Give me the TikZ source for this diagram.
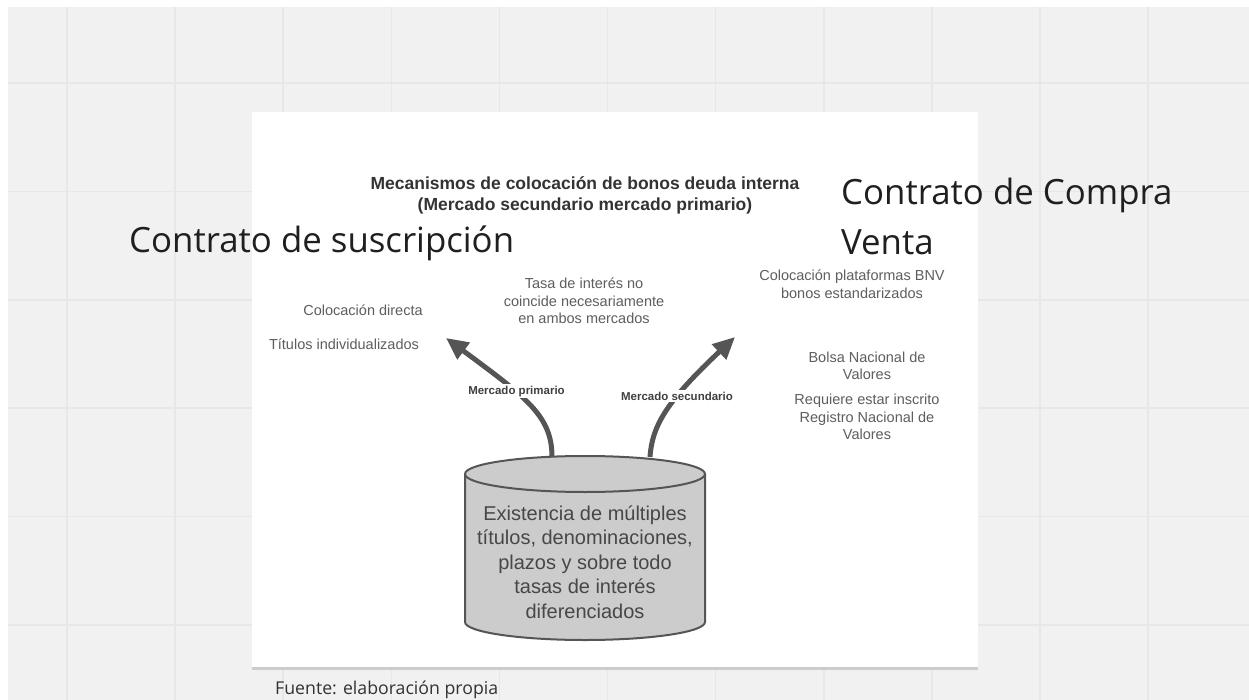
\documentclass[tikz,border=0pt]{standalone}
\usepackage{fontspec}
\setmainfont{Liberation Sans}
\newfontfamily\opensans{Open Sans}
\usetikzlibrary{arrows.meta}
\usetikzlibrary{positioning}
\definecolor{boardbg}{HTML}{F1F1F1}
\definecolor{boardline}{HTML}{E7E7E7}
\definecolor{inkgray}{HTML}{555555}
\definecolor{notegray}{HTML}{5E5E5E}
\definecolor{drumfill}{HTML}{CCCCCC}
\tikzset{note/.style = {text = notegray, font = \fontsize{14.5}{17.5}\selectfont, align = center, inner sep = 0},
  marklbl/.style = {text = black!75, font = \fontsize{11.5}{13}\selectfont\bfseries, fill = white, inner sep = 2pt},
  bigtxt/.style = {text = black!88, font = \opensans\fontsize{34.8}{50}\selectfont, align = left, inner sep = 0},
  flow/.style = {draw = inkgray, line width = 5pt, -{Triangle[length = 22pt, width = 20pt]}}}

\begin{document}
\begin{tikzpicture}[x=1pt, y=-1pt]
    \useasboundingbox (0, 0) rectangle (1249, 700);
    \fill[boardbg] (8, 7) rectangle (1249, 700);
    \foreach \gx in {0,...,10}{
      \draw[boardline, line width = 1.6pt] ({67 + 108.1*\gx}, 7) -- ({67 + 108.1*\gx}, 700);
    }
    \foreach \gy in {0,...,5}{
      \draw[boardline, line width = 1.6pt] (8, {83 + 108.4*\gy}) -- (1249, {83 + 108.4*\gy});
    }
    \fill[black!20] (252, 665) rectangle (978, 670);
    \fill[white] (252, 112) rectangle (978, 667);

    \node[font = \fontsize{17.5}{21}\selectfont\bfseries, text = black!80, align = center, inner sep = 0] (title) at (585, 195)
      {Mecanismos de colocación de bonos deuda interna\\(Mercado secundario mercado primario)};
    \node[bigtxt, anchor = base west] (suscr) at (129, 253) {Contrato de suscripción};
    \node[bigtxt, anchor = north west] (compra) at (841, 178) {Contrato de Compra\\Venta};

    \node[note, anchor = base] (directa) at (363, 316) {Colocación directa};
    \node[note, anchor = base] (indiv) at (344, 349) {Títulos individualizados};
    \node[note] (tasa) at (584, 301) {Tasa de interés no\\coincide necesariamente\\en ambos mercados};
    \node[note] (bnv) at (852, 284) {Colocación plataformas BNV\\bonos estandarizados};
    \node[note] (bolsa) at (867, 366) {Bolsa Nacional de\\Valores};
    \node[note] (registro) at (867, 417) {Requiere estar inscrito\\Registro Nacional de\\Valores};

    \filldraw[fill = drumfill, draw = inkgray, line width = 2pt] (465, 474) -- (465, 622) arc (180:0:120 and 18)
      -- (705, 474) arc (0:-180:120 and 18) -- cycle;
    \draw[inkgray, line width = 2pt] (465, 474) arc (180:0:120 and 18);
    \node[text = black!72, font = \fontsize{20}{24.5}\selectfont, align = center, inner sep = 0] (drum) at (585, 562)
      {Existencia de múltiples\\títulos, denominaciones,\\plazos y sobre todo\\tasas de interés\\diferenciados};

    \coordinate (drumL) at (552, 457);
    \coordinate (drumR) at (650, 457);
    \coordinate (tipL) at (446, 338);
    \coordinate (tipR) at (735, 337);
    \draw[flow] (drumL) .. controls +(0, -41) and +(81, 60) .. (tipL);
    \draw[flow] (drumR) .. controls +(2, -32) and +(-67, 63) .. (tipR);
    \node[marklbl, anchor = base] (prim) at (516.5, 394) {Mercado primario};
    \node[marklbl, anchor = base] (sec) at (677, 400) {Mercado secundario};

    \node[font = \opensans\fontsize{17.7}{20}\selectfont, text = black!80, anchor = base west, inner sep = 0] (fuente) at (275, 694)
      {Fuente: elaboración propia};
  \end{tikzpicture}
\end{document}
